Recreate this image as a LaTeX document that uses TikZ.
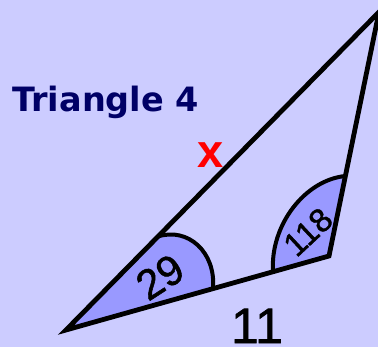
\documentclass[tikz,border=0pt]{standalone}
\usepackage{fontspec}
\setmainfont{Liberation Sans}
\newfontfamily\titlefont{DejaVu Sans}
\newfontfamily\numfont[FakeBold=1.2]{Liberation Sans}
\definecolor{bgcol}{RGB}{204,204,255}
\definecolor{wedgecol}{RGB}{153,153,255}
\definecolor{navy}{RGB}{0,0,102}
\begin{document}
\begin{tikzpicture}[x=1pt,y=1pt,
  edge/.style={line width=4.8pt,line join=miter},
  arcline/.style={line width=4pt},
  num/.style={font=\numfont\fontsize{#1}{#1}\selectfont,inner sep=0pt,text=black}]
\fill[bgcol] (0,0) rectangle (378,347);
\useasboundingbox (0,0) rectangle (378,347);
\coordinate (A) at (66,17);
\coordinate (B) at (329,91);
\coordinate (C) at (379,335);
% wedge at A
\coordinate (P1) at (158,110.5);
\coordinate (P2) at (213,58.3);
\fill[wedgecol] (A) -- (P1) .. controls (188,120) and (216,95) .. (P2) -- cycle;
\draw[arcline] (P1) .. controls (188,120) and (216,95) .. (P2);
% wedge at B
\coordinate (P3) at (273,75.2);
\coordinate (P4) at (345.4,171);
\fill[wedgecol] (B) -- (P3) .. controls (270,122) and (305,167) .. (P4) -- cycle;
\draw[arcline] (P3) .. controls (270,122) and (305,167) .. (P4);
% triangle
\draw[edge] (A) -- (B) -- (C) -- cycle;
% labels
\node[anchor=base west,inner sep=0pt,text=navy,font=\titlefont\bfseries\fontsize{33.5}{33.5}\selectfont] (title) at (12,235.3) {Triangle 4};
\node[inner sep=0pt,text=red,font=\bfseries\fontsize{47}{47}\selectfont] (xlab) at (211,192) {x};
\node[num=50] (side) at (257,21) {11};
\node[num=42,rotate=33] (angA) at (160,70) {29};
\node[num=33,rotate=43] (angB) at (308,115) {118};
\end{tikzpicture}
\end{document}
